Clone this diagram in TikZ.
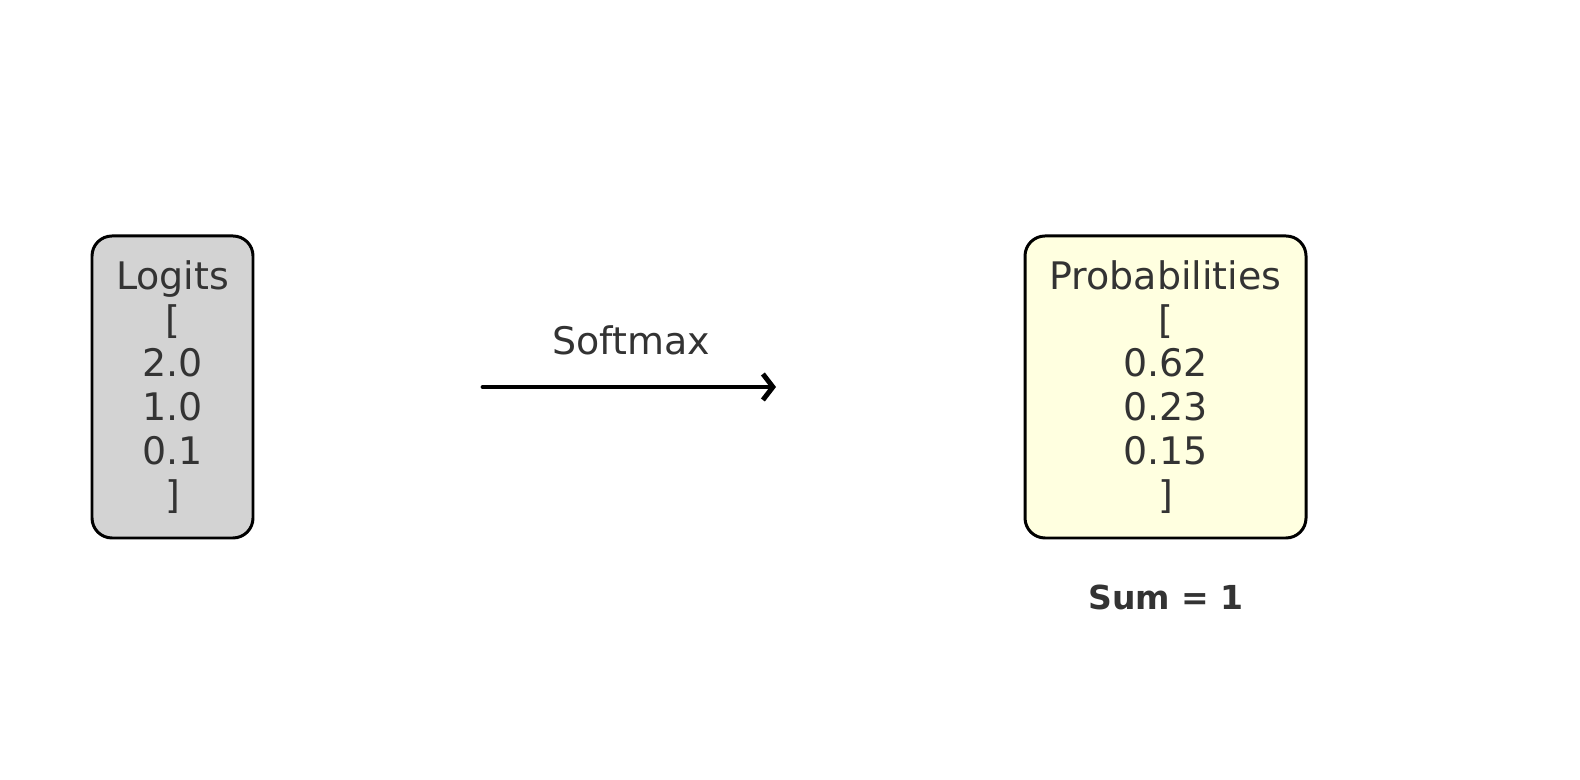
\documentclass[tikz,border=0pt]{standalone}
\usepackage{fontspec}
\setmainfont{DejaVu Sans}
\usetikzlibrary{arrows.meta}
\definecolor{txtgray}{HTML}{333333}
\definecolor{logitfill}{HTML}{D3D3D3}
\definecolor{probfill}{HTML}{FFFFE0}
\begin{document}
\begin{tikzpicture}[line join=round,line cap=round,
	vecbox/.style={draw=black,line width=0.85pt,rounded corners=0.2cm,align=center,text=txtgray,inner sep=0pt,minimum height=3.02cm,font=\fontsize{10.8}{12.5}\selectfont},
	lbl/.style={text=txtgray,font=\fontsize{10.8}{12.5}\selectfont}]
	\useasboundingbox (0,0) rectangle (15.8,7.8);
	\node[vecbox,fill=logitfill,minimum width=1.61cm] (logits) at (1.725,3.93) {Logits\\{[}\\2.0\\1.0\\0.1\\{]}};
	\node[vecbox,fill=probfill,minimum width=2.81cm] (probs) at (11.655,3.93) {Probabilities\\{[}\\0.62\\0.23\\0.15\\{]}};
	\coordinate (arrstart) at (4.83,3.93);
	\coordinate (arrend) at (7.76,3.93);
	\draw[-{Straight Barb[length=1mm,width=2.6mm]},line width=1.4pt] (arrstart)--(arrend);
	\node[lbl] (softmax) at (6.31,4.40) {Softmax};
	\node[lbl,font=\fontsize{9.4}{11}\selectfont\bfseries] (sum) at (11.66,1.83) {Sum = 1};
\end{tikzpicture}
\end{document}
